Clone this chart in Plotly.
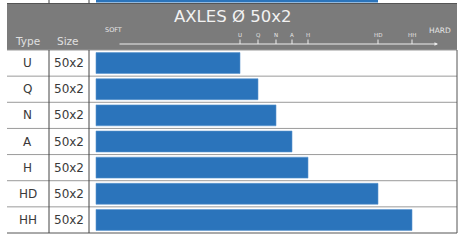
import plotly.graph_objects as go

# ---- data ----
types = ["U", "Q", "N", "A", "H", "HD", "HH"]
sizes = ["50x2", "50x2", "50x2", "50x2", "50x2", "50x2", "50x2"]
hardness = [144, 162, 180, 196, 212, 282, 316]
prev_table_bar = 282
title_text = "AXLES Ø 50x2"

W, H = 462, 244
def px(x):
    return x / W
def py(y):
    return 1 - y / H

BAR = "#2b74bb"
HEAD = "#7b7b7b"
TXT = "#3a3a3a"
FONT = "DejaVu Sans"

fig = go.Figure()
fig.add_trace(go.Bar(
    x=hardness, y=types, orientation="h", width=0.8,
    marker=dict(color=BAR, line=dict(color="#5a95cf", width=0.6)),
    hoverinfo="skip",
))

shapes = []
annotations = []

def label(x, y, text, size, color, xref="paper", yref="paper"):
    annotations.append(dict(x=x, y=y, xref=xref, yref=yref, text=text, showarrow=False,
                            xanchor="center", yanchor="middle",
                            font=dict(family=FONT, size=size, color=color)))

# previous table bar remnant at top
shapes.append(dict(type="rect", xref="x", yref="paper", x0=0, x1=prev_table_bar,
                   y0=py(2.5), y1=py(0), fillcolor=BAR, line=dict(width=0), layer="below"))
# header block
shapes.append(dict(type="rect", xref="paper", yref="paper", x0=px(7), x1=px(457),
                   y0=py(50), y1=py(3.5), fillcolor=HEAD, line=dict(width=0), layer="below"))
shapes.append(dict(type="line", xref="paper", yref="paper", x0=px(7), x1=px(457),
                   y0=py(3.5), y1=py(3.5), line=dict(color="#555555", width=1)))

# row separators
row_top, row_h = 50, (233 - 50) / len(types)
for i in range(len(types) + 1):
    yy = row_top + i * row_h
    shapes.append(dict(type="line", xref="paper", yref="paper", x0=px(7), x1=px(457),
                       y0=py(yy), y1=py(yy),
                       line=dict(color="#555555" if i == len(types) else "#9a9a9a", width=1)))
# vertical lines
for xx in (49, 89):
    shapes.append(dict(type="line", xref="paper", yref="paper", x0=px(xx), x1=px(xx),
                       y0=py(233), y1=py(50), line=dict(color="#444444", width=1)))
    shapes.append(dict(type="line", xref="paper", yref="paper", x0=px(xx), x1=px(xx),
                       y0=py(3.5), y1=py(0), line=dict(color="#444444", width=1)))
shapes.append(dict(type="line", xref="paper", yref="paper", x0=px(457), x1=px(457),
                   y0=py(233), y1=py(50), line=dict(color="#555555", width=1)))

# cell text
for t, s in zip(types, sizes):
    label(px(27.5), t, t, 12, TXT, yref="y")
    label(px(69), t, s, 12, TXT, yref="y")

# header texts
label(px(232), py(16.5), title_text, 16.5, "#f2f2f2")
label(px(27.5), py(41), "Type", 10.5, "#e0e0e0")
label(px(67.5), py(41), "Size", 10.5, "#e0e0e0")
label(px(113), py(29.5), "SOFT", 6.5, "#e6e6e6")
label(px(440), py(30.5), "HARD", 7.5, "#e6e6e6")

# scale arrow
annotations.append(dict(x=px(438), y=py(44), xref="paper", yref="paper", ax=-320, ay=0,
                        text="", showarrow=True, arrowhead=2, arrowsize=0.7, arrowwidth=1,
                        arrowcolor="#eeeeee"))
# scale ticks and labels from data
for t, v in zip(types, hardness):
    shapes.append(dict(type="line", xref="x", yref="paper", x0=v, x1=v,
                       y0=py(44), y1=py(39.5), line=dict(color="#eeeeee", width=1)))
    label(v, py(34.5), t, 5.5, "#e6e6e6", xref="x")

fig.update_layout(
    width=W, height=H, margin=dict(l=0, r=0, t=0, b=0),
    paper_bgcolor="white", plot_bgcolor="rgba(0,0,0,0)",
    showlegend=False,
    xaxis=dict(range=[-96, 366], visible=False, fixedrange=True),
    yaxis=dict(categoryorder="array", categoryarray=types, autorange="reversed",
               domain=[py(233), py(50)], visible=False, fixedrange=True),
    shapes=shapes, annotations=annotations,
)

fig.write_html("out.html", config={"displayModeBar": False})
